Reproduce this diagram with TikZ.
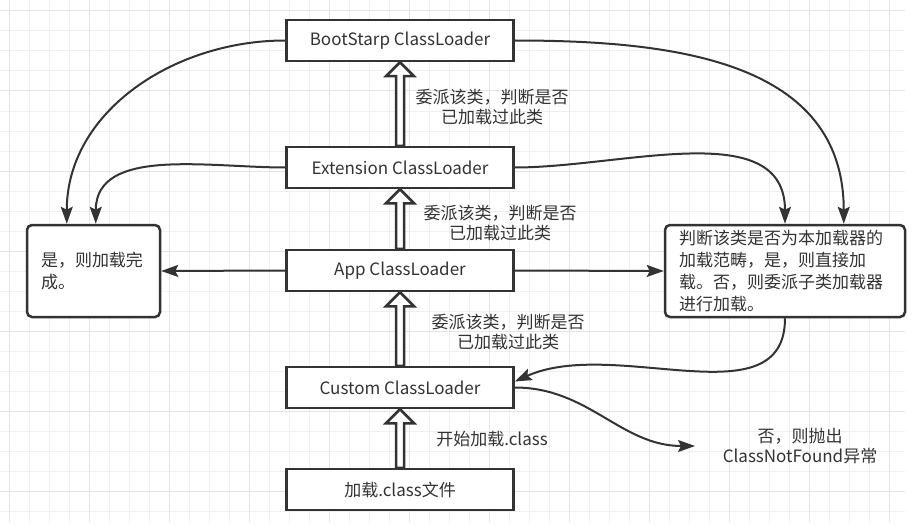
\documentclass[tikz,border=0pt]{standalone}
\usepackage{fontspec}
\setmainfont{Noto Sans CJK SC}
\usepackage{xcolor}
\usepackage{tikz}
\usetikzlibrary{arrows.meta,calc}

\definecolor{ink}{HTML}{333333}
\definecolor{gridminor}{HTML}{F0F0F0}
\definecolor{gridmajor}{HTML}{E4E4E4}

\begin{document}
\begin{tikzpicture}[
	x=1pt, y=1pt,
	every node/.style={text=ink, font=\fontsize{17pt}{22pt}\selectfont},
	loader/.style={draw=ink, line width=2.5pt, fill=white, minimum width=227pt, minimum height=41pt},
	result/.style={draw=ink, line width=2.5pt, fill=white, rounded corners=5pt, minimum height=92pt, inner xsep=14pt, align=left},
	remark/.style={align=center, font=\fontsize{17pt}{20pt}\selectfont},
	flow/.style={draw=ink, line width=2pt, -{Stealth[length=17pt,width=12pt,inset=3pt]}},
	hollow/.style={draw=ink, line width=2.5pt, fill=white, line join=miter}
]
	\useasboundingbox (0,0) rectangle (924,-527);
	\fill[white] (0,0) rectangle (924,-527);
	% grid
	\draw[step=20pt, gridminor, line width=1pt, xshift=9pt, yshift=-11pt] (-9,11) grid (896,-511);
	\draw[step=80pt, gridmajor, line width=1pt, xshift=9pt, yshift=-11pt] (-9,11) grid (896,-511);

	% loaders
	\node[loader] (boot) at (400,-40.5) {BootStarp ClassLoader};
	\node[loader] (ext) at (400,-167.5) {Extension ClassLoader};
	\node[loader] (app) at (400,-270.5) {App ClassLoader};
	\node[loader] (cust) at (400,-387.5) {Custom ClassLoader};
	\node[loader] (file) at (400,-489.5) {加载.class文件};

	% results
	\node[result, minimum width=133pt, text width=105pt] (done) at (93.5,-271) {是，则加载完\\成。};
	\node[result, minimum width=240pt, text width=212pt] (check) at (785,-271) {判断该类是否为本加载器的\\加载范畴，是，则直接加\\载。否，则委派子类加载器\\进行加载。};

	% labels
	\node[remark] (lb1) at (492,-107) {委派该类，判断是否\\已加载过此类};
	\node[remark] (lb2) at (500,-223) {委派该类，判断是否\\已加载过此类};
	\node[remark] (lb3) at (508,-332) {委派该类，判断是否\\已加载过此类};
	\node[remark] (lb4) at (492,-439) {开始加载.class};
	\node[remark] (err) at (800,-446) {否，则抛出\\ClassNotFound异常};
	\coordinate (nf) at (695,-446);

	% delegation arrows
	\foreach \lo/\hi in {ext/boot, app/ext, cust/app, file/cust}
		\draw[hollow] let \p1=(\lo.north), \p2=(\hi.south) in
			(\x1-4pt,\y1) -- (\x1-4pt,\y2-14pt) -- (\x1-14pt,\y2-14pt) -- (\x2,\y2)
			-- (\x1+14pt,\y2-14pt) -- (\x1+4pt,\y2-14pt) -- (\x1+4pt,\y1) -- cycle;

	% connectors
	\draw[flow] (boot.west) to[out=180,in=90] ([xshift=41pt]done.north west);
	\draw[flow] (ext.west) to[out=180,in=90] ([xshift=70pt]done.north west);
	\draw[flow] (boot.east) to[out=0,in=90,looseness=1.1] ([xshift=180pt]check.north west);
	\draw[flow] (ext.east) to[out=0,in=90] (check.north);
	\draw[flow] (app.west) -- (done.east);
	\draw[flow] (app.east) -- (check.west);
	\draw[flow] (check.south) .. controls +(0,-103) and +(100,45) .. ([yshift=6pt]cust.east);
	\draw[flow] (cust.east) to[out=0,in=180] (nf);
\end{tikzpicture}
\end{document}
